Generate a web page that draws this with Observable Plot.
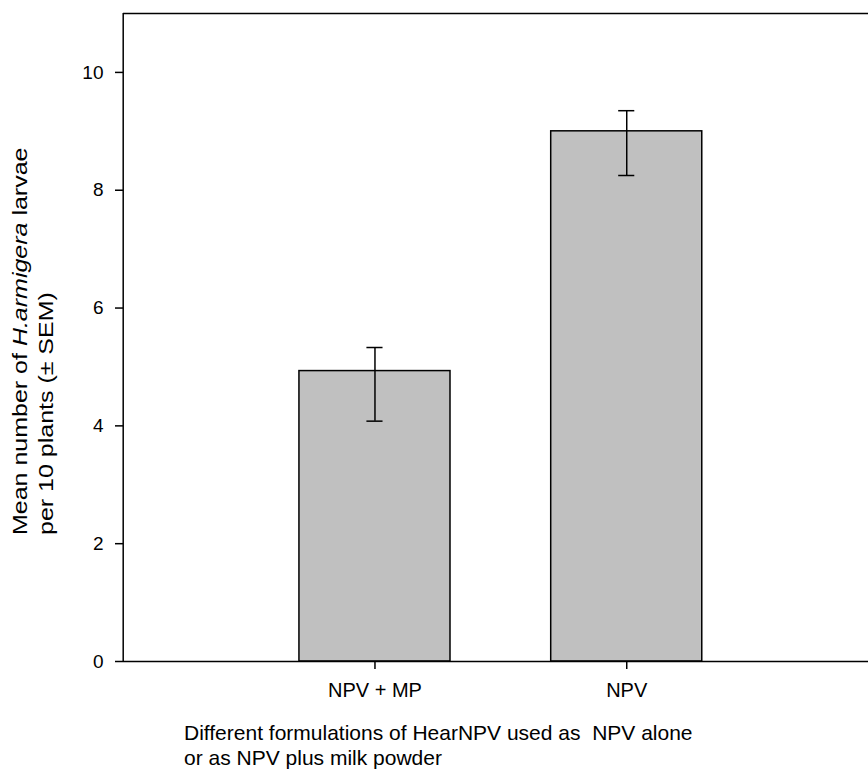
<!DOCTYPE html>
<html>
<head>
<meta charset="utf-8">
<script src="https://cdn.jsdelivr.net/npm/d3@7"></script>
<script src="https://cdn.jsdelivr.net/npm/@observablehq/plot@0.6"></script>
<style>
  html, body { margin: 0; padding: 0; background: #fff; }
  #chart svg { display: block; }
</style>
</head>
<body>
<div id="chart"></div>
<script>
// ---- data ----
const categories = ["NPV + MP", "NPV"];
const means = [4.93, 9.0];
const errUpper = [5.33, 9.35];
const errLower = [4.08, 8.25];
const yTicks = [0, 2, 4, 6, 8, 10];
const xTitleLines = ["Different formulations of HearNPV used as  NPV alone", "or as NPV plus milk powder"];

const data = categories.map((c, i) => ({
  cat: c, pos: i + 1, mean: means[i], hi: errUpper[i], lo: errLower[i]
}));

const font = "'Liberation Sans', Arial, sans-serif";
const W = 868, H = 774;
const halfBar = 0.3, halfCap = 0.032;

const plot = Plot.plot({
  width: W,
  height: H,
  marginTop: 13,
  marginBottom: 113,
  marginLeft: 123,
  marginRight: 0,
  style: { fontFamily: font, fontSize: "19px", color: "#000", background: "#fff" },
  x: { type: "linear", domain: [0, 3], range: [122.7, 878], axis: null },
  y: { domain: [0, 11], axis: null },
  marks: [
    Plot.rectY(data, {
      x1: d => d.pos - halfBar, x2: d => d.pos + halfBar, y1: 0, y2: "mean",
      fill: "#c0c0c0", stroke: "#000", strokeWidth: 1.5
    }),
    Plot.ruleX(data, { x: "pos", y1: "lo", y2: "hi", stroke: "#000", strokeWidth: 1.5 }),
    Plot.ruleY(data, { y: "hi", x1: d => d.pos - halfCap, x2: d => d.pos + halfCap, stroke: "#000", strokeWidth: 1.5 }),
    Plot.ruleY(data, { y: "lo", x1: d => d.pos - halfCap, x2: d => d.pos + halfCap, stroke: "#000", strokeWidth: 1.5 }),
    // frame lines
    Plot.ruleX([0], { stroke: "#000", strokeWidth: 1.5 }),
    Plot.ruleY([0], { stroke: "#000", strokeWidth: 1.5 }),
    Plot.ruleY([11], { stroke: "#000", strokeWidth: 1.5 }),
    Plot.axisY(yTicks, {
      anchor: "left", tickSize: 8, tickPadding: 12, tickFormat: d => d,
      stroke: "#000", strokeWidth: 1.5, fontSize: 19, label: null
    }),
    Plot.axisX(data.map(d => d.pos), {
      anchor: "bottom", tickSize: 8, tickPadding: 13,
      tickFormat: d => categories[d - 1],
      stroke: "#000", strokeWidth: 1.5, fontSize: 20, label: null
    })
  ]
});

document.getElementById("chart").appendChild(plot);

const svg = d3.select(plot);

// x-axis title (two lines)
const xt = svg.append("text")
  .attr("font-family", font)
  .attr("font-size", 21)
  .attr("fill", "#000")
  .attr("text-anchor", "start")
  .style("white-space", "pre");
xTitleLines.forEach((line, i) => {
  xt.append("tspan").attr("x", 184).attr("y", 740 + i * 25).text(line);
});

// y-axis title (two lines, rotated, stretched along the text as in the source)
const yt = svg.append("text")
  .attr("font-family", font)
  .attr("font-size", 20)
  .attr("fill", "#000")
  .attr("text-anchor", "start")
  .attr("transform", "translate(27,535) rotate(-90) scale(1.25,1)");
const l1 = yt.append("tspan").attr("x", 0).attr("y", 0);
l1.append("tspan").text("Mean number of ");
l1.append("tspan").attr("font-style", "italic").text("H.armigera");
l1.append("tspan").text(" larvae");
yt.append("tspan").attr("x", 0).attr("y", 26).text("per 10 plants (\u00B1 SEM)");
</script>
</body>
</html>
